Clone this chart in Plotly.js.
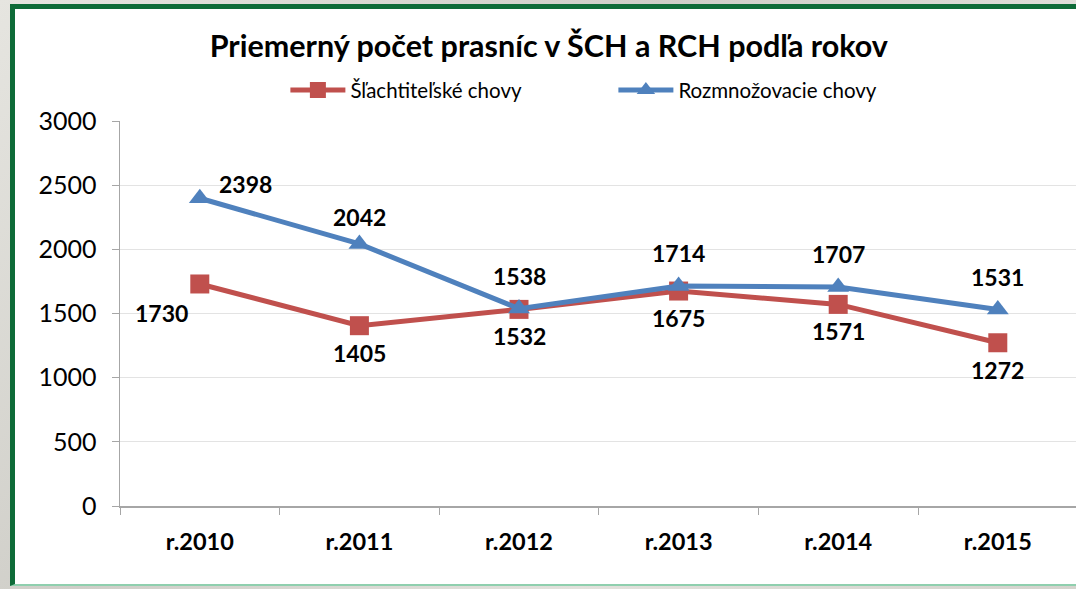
<!DOCTYPE html>
<html><head><meta charset="utf-8">
<script src="https://cdn.plot.ly/plotly-3.0.1.min.js"></script>
<style>
html,body{margin:0;padding:0;width:1076px;height:589px;overflow:hidden;background:#d9d8d2;}
#bg{position:absolute;left:0;top:0;width:1076px;height:589px;background:linear-gradient(135deg,#e6e5e0,#cfcec8 40%,#e2e1dc 70%,#d4d3cd);}
#frame{position:absolute;left:10px;top:4px;width:1080px;height:582px;background:#fff;border-left:5px solid #0e6b38;border-top:5px solid #0e6b38;border-bottom:2px solid #8fcfae;box-sizing:border-box;}
#chart{position:absolute;left:0;top:0;width:1076px;height:589px;}
</style></head><body>
<div id="bg"></div><div id="frame"></div><div id="chart"></div>
<script>
const categories = ['r.2010','r.2011','r.2012','r.2013','r.2014','r.2015'];
const seriesNames = ['Šľachtiteľské chovy','Rozmnožovacie chovy'];
const schValues = [1730, 1405, 1532, 1675, 1571, 1272];
const rchValues = [2398, 2042, 1538, 1714, 1707, 1531];
const yTicks = [0, 500, 1000, 1500, 2000, 2500, 3000];

const red = '#c0504d', blue = '#4f81bd';
const font = 'Lato, "Open Sans", sans-serif';

const traces = [
  {x: categories, y: schValues, name: seriesNames[0], type: 'scatter', mode: 'lines+markers',
   line: {color: red, width: 5}, marker: {symbol: 'square', size: 19, color: red}},
  {x: categories, y: rchValues, name: seriesNames[1], type: 'scatter', mode: 'lines+markers',
   line: {color: blue, width: 5}, marker: {symbol: 'triangle-up', size: 19, color: blue}}
];

const annotations = [];
const lblFont = {family: font, size: 23, color: '#000', weight: 'bold'};
schValues.forEach((v, i) => {
  annotations.push({x: categories[i], y: v, text: String(v), showarrow: false,
    xshift: i === 0 ? -38 : 0, yshift: i === 0 ? -29 : -27, font: lblFont});
});
rchValues.forEach((v, i) => {
  annotations.push({x: categories[i], y: v, text: String(v), showarrow: false,
    xshift: i === 0 ? 46 : 0, yshift: i === 0 ? 14 : (i === 1 ? 27 : 33), font: lblFont});
});

const layout = {
  width: 1076, height: 589,
  paper_bgcolor: 'rgba(0,0,0,0)', plot_bgcolor: '#fff',
  margin: {l: 120, r: 0, t: 121, b: 83},
  title: {text: '<b>Priemerný počet prasníc v ŠCH a RCH podľa rokov</b>', x: 0.51, xanchor: 'center', y: 0.922, yanchor: 'middle',
    font: {family: font, size: 30.5, color: '#000'}},
  showlegend: true,
  legend: {orientation: 'h', x: 0.173, xanchor: 'left', y: 1.08, yanchor: 'middle',
    entrywidth: 258, entrywidthmode: 'pixels', itemwidth: 55,
    font: {family: font, size: 20.5, color: '#000'}, bgcolor: 'rgba(0,0,0,0)'},
  xaxis: {type: 'category', range: [-0.5, 5.49], showline: true, linecolor: '#a6a6a6', linewidth: 1.5,
    showgrid: false, ticks: 'outside', ticklen: 7, tickcolor: '#a6a6a6', tickson: 'boundaries', ticklabelstandoff: 14,
    tickfont: {family: font, size: 23.5, color: '#000', weight: 'bold'}, fixedrange: true},
  yaxis: {range: [0, 3000], tickvals: yTicks, ticktext: yTicks.map(String), showline: true, linecolor: '#a6a6a6', linewidth: 1.5,
    showgrid: true, gridcolor: '#e3e3e3', gridwidth: 1, zeroline: false, ticks: 'outside', ticklen: 7, tickcolor: '#a6a6a6',
    ticklabelstandoff: 10,
    tickfont: {family: font, size: 25, color: '#000'}, fixedrange: true},
  annotations: annotations
};
Plotly.newPlot('chart', traces, layout, {displayModeBar: false, staticPlot: true});
</script></body></html>
